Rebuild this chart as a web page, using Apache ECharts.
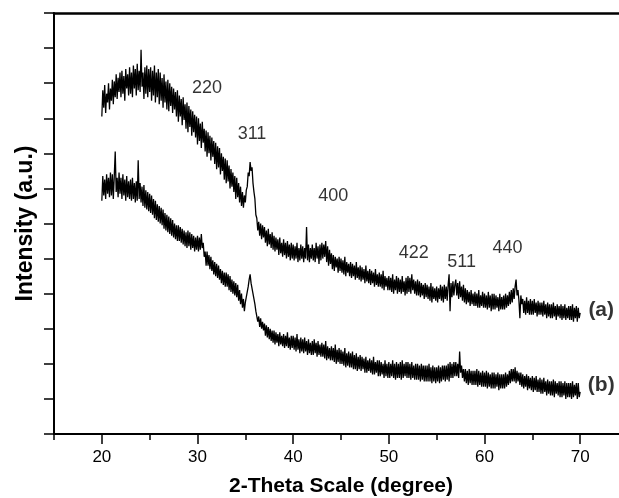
<!DOCTYPE html>
<html>
<head>
<meta charset="utf-8">
<title>XRD</title>
<script src="https://cdn.jsdelivr.net/npm/echarts@6/dist/echarts.min.js"></script>
<style>
  html, body { margin: 0; padding: 0; background: #fff; }
  #main { width: 619px; height: 498px; }
</style>
</head>
<body>
<div id="main"></div>
<script type="text/javascript">
// 2-theta sampling of the scans (degrees)
var thetaStart = 20;
var thetaStep = 0.1;

// scan (a), one row per degree (20.0 .. 69.9), then 70.0
var scanA = [
  905, 980, 930, 995, 915, 970, 945, 1000, 925, 985,
  950, 1010, 940, 1005, 960, 1025, 955, 1015, 975, 1030,
  960, 1035, 970, 1020, 950, 1040, 985, 1025, 965, 1045,
  970, 1030, 960, 1050, 985, 1040, 965, 1055, 980, 1035,
  975, 1095, 990, 1030, 955, 1045, 970, 1050, 960, 1040,
  975, 1045, 950, 1035, 965, 1050, 945, 1030, 960, 1040,
  940, 1030, 950, 1015, 930, 1025, 945, 1005, 925, 1010,
  920, 1000, 935, 990, 915, 985, 925, 975, 905, 980,
  890, 965, 905, 955, 880, 960, 895, 940, 870, 945,
  860, 935, 875, 925, 850, 920, 860, 910, 845, 905,
  825, 900, 835, 885, 815, 890, 830, 870, 805, 865,
  790, 860, 800, 850, 780, 845, 790, 835, 770, 830,
  755, 820, 760, 815, 740, 800, 750, 790, 725, 785,
  715, 780, 720, 765, 700, 755, 705, 745, 690, 735,
  670, 730, 675, 715, 660, 705, 650, 690, 645, 680,
  660, 695, 705, 745, 735, 775, 750, 760, 715, 690,
  670, 625, 615, 580, 605, 565, 600, 555, 595, 560,
  590, 545, 580, 535, 585, 540, 570, 530, 575, 525,
  565, 520, 560, 525, 555, 510, 560, 515, 545, 505,
  555, 510, 545, 500, 550, 505, 540, 495, 545, 500,
  540, 495, 535, 500, 545, 490, 530, 495, 540, 500,
  535, 490, 530, 500, 590, 495, 540, 490, 530, 500,
  540, 495, 530, 490, 545, 500, 535, 485, 540, 495,
  545, 500, 540, 505, 550, 490, 535, 480, 525, 485,
  515, 470, 510, 465, 505, 475, 500, 460, 505, 465,
  500, 460, 495, 455, 505, 450, 490, 460, 485, 450,
  490, 445, 485, 450, 480, 440, 490, 445, 475, 440,
  480, 435, 475, 440, 470, 430, 480, 435, 465, 430,
  470, 425, 465, 430, 460, 420, 470, 425, 455, 420,
  460, 420, 455, 415, 465, 410, 450, 420, 445, 410,
  450, 410, 445, 405, 455, 400, 440, 410, 450, 400,
  445, 405, 440, 400, 450, 405, 435, 395, 445, 400,
  450, 405, 445, 400, 455, 410, 440, 400, 435, 395,
  440, 395, 435, 390, 430, 395, 425, 385, 430, 390,
  425, 385, 420, 380, 430, 375, 420, 385, 415, 380,
  420, 375, 415, 385, 425, 380, 420, 375, 425, 385,
  420, 380, 425, 455, 350, 430, 390, 435, 395, 425,
  440, 395, 430, 385, 435, 390, 420, 380, 425, 375,
  415, 370, 410, 375, 405, 365, 410, 370, 400, 365,
  405, 365, 400, 360, 410, 360, 395, 365, 405, 360,
  400, 360, 395, 355, 405, 360, 395, 350, 400, 355,
  400, 355, 395, 360, 390, 350, 400, 355, 390, 355,
  395, 355, 400, 360, 395, 365, 405, 370, 410, 375,
  415, 385, 420, 440, 395, 410, 380, 330, 395, 370,
  385, 345, 380, 340, 390, 345, 380, 340, 385, 340,
  380, 340, 385, 345, 375, 335, 380, 340, 375, 340,
  375, 335, 380, 340, 370, 330, 375, 335, 370, 330,
  370, 330, 375, 335, 365, 325, 370, 335, 365, 330,
  370, 325, 365, 330, 370, 325, 360, 330, 365, 325,
  365, 325, 370, 320, 360, 330, 365, 320, 360, 330,
  345
];

// scan (b), same sampling
var scanB = [
  665, 735, 680, 725, 670, 740, 685, 730, 675, 745,
  680, 740, 670, 735, 805, 690, 730, 675, 745, 685,
  730, 670, 740, 680, 725, 665, 735, 675, 720, 670,
  725, 665, 730, 670, 715, 660, 720, 665, 780, 670,
  715, 660, 705, 650, 710, 645, 695, 640, 690, 635,
  685, 630, 680, 625, 670, 615, 665, 610, 655, 605,
  650, 600, 645, 595, 640, 585, 630, 580, 625, 575,
  620, 570, 615, 565, 610, 560, 600, 555, 595, 550,
  595, 550, 590, 545, 585, 540, 580, 535, 575, 530,
  580, 535, 575, 525, 570, 530, 565, 520, 560, 525,
  565, 520, 560, 525, 570, 530, 545, 505, 520, 480,
  520, 480, 510, 470, 505, 465, 495, 455, 490, 450,
  485, 445, 480, 440, 470, 430, 465, 425, 460, 420,
  460, 420, 455, 410, 450, 405, 440, 400, 435, 395,
  430, 390, 425, 380, 410, 370, 400, 360, 385, 350,
  375, 390, 405, 420, 440, 455, 430, 435, 400, 385,
  370, 350, 345, 320, 335, 305, 330, 300, 320, 295,
  315, 280, 310, 275, 305, 270, 300, 265, 295, 260,
  295, 255, 290, 260, 285, 250, 290, 255, 280, 250,
  285, 245, 280, 250, 290, 245, 275, 240, 280, 245,
  280, 240, 275, 235, 285, 240, 270, 230, 275, 235,
  270, 230, 275, 235, 265, 225, 270, 230, 260, 225,
  265, 225, 270, 230, 260, 220, 265, 225, 255, 220,
  260, 220, 255, 215, 265, 210, 250, 215, 245, 210,
  250, 210, 245, 205, 255, 200, 240, 205, 245, 200,
  240, 200, 235, 195, 245, 190, 230, 195, 235, 190,
  230, 190, 235, 185, 225, 185, 230, 180, 220, 185,
  225, 180, 220, 185, 215, 175, 220, 175, 210, 180,
  215, 175, 210, 170, 220, 170, 205, 175, 210, 165,
  210, 165, 205, 170, 200, 160, 210, 165, 200, 160,
  205, 160, 200, 165, 210, 160, 200, 155, 205, 160,
  200, 160, 205, 155, 210, 160, 200, 165, 205, 160,
  205, 160, 200, 155, 205, 160, 195, 155, 200, 155,
  200, 155, 195, 150, 200, 155, 195, 150, 195, 150,
  195, 150, 200, 150, 190, 145, 195, 150, 190, 145,
  190, 150, 195, 145, 190, 150, 195, 155, 195, 150,
  195, 155, 200, 150, 205, 160, 200, 160, 205, 165,
  205, 165, 200, 160, 235, 175, 195, 160, 185, 150,
  185, 145, 180, 140, 185, 145, 180, 140, 180, 140,
  180, 140, 185, 135, 180, 140, 175, 135, 180, 135,
  175, 135, 180, 130, 175, 135, 170, 130, 175, 130,
  175, 130, 170, 135, 175, 125, 170, 130, 170, 130,
  170, 130, 175, 135, 170, 140, 180, 145, 185, 150,
  185, 150, 190, 145, 180, 150, 175, 140, 175, 135,
  170, 130, 165, 135, 170, 125, 165, 130, 160, 125,
  165, 120, 160, 125, 165, 120, 155, 120, 160, 115,
  155, 115, 160, 120, 150, 110, 155, 115, 150, 110,
  150, 110, 155, 105, 150, 115, 145, 110, 150, 105,
  150, 105, 145, 110, 150, 100, 145, 105, 145, 105,
  145, 100, 150, 105, 140, 110, 145, 100, 145, 105,
  120
];

// reflection labels
var peakNames = ['220', '311', '400', '422', '511', '440'];
var peakX = [31.0, 35.7, 44.2, 52.6, 57.6, 62.4];
var peakY = [986, 855, 678, 516, 490, 530];

// curve labels
var curveNames = ['(a)', '(b)'];
var curveX = [72.2, 72.2];
var curveY = [353, 140];

var majorTicks = [20, 30, 40, 50, 60, 70];

function toPairs(arr) {
  return arr.map(function (v, i) { return [thetaStart + i * thetaStep, v]; });
}
function labelPoints(names, xs, ys) {
  return names.map(function (n, i) { return { value: [xs[i], ys[i]], name: n }; });
}

var myChart = echarts.init(document.getElementById('main'));
var font = 'Liberation Sans, Arial, Helvetica, sans-serif';

var option = {
  animation: false,
  backgroundColor: '#fff',
  grid: { left: 54, top: 13, bottom: 64, right: -9, outerBoundsMode: 'none', containLabel: false },
  xAxis: [
    {
      type: 'value', min: 15, max: 75, interval: 5, position: 'bottom',
      name: '2-Theta Scale (degree)', nameLocation: 'middle', nameGap: 42,
      nameTextStyle: { fontFamily: font, fontWeight: 'bold', fontSize: 21, color: '#000' },
      axisLine: { onZero: false, lineStyle: { color: '#000', width: 2 } },
      axisTick: { show: true, length: 6, lineStyle: { color: '#000', width: 1.5 } },
      axisLabel: {
        margin: 15, fontFamily: font, fontSize: 17, color: '#000',
        formatter: function (v) { return v % 10 === 0 ? String(v) : ''; }
      },
      splitLine: { show: false }
    },
    {
      type: 'value', min: 15, max: 75, interval: 5, position: 'bottom',
      axisLine: { show: false },
      axisTick: { show: true, length: 10, customValues: majorTicks, lineStyle: { color: '#000', width: 1.5 } },
      axisLabel: { show: false },
      splitLine: { show: false }
    },
    {
      type: 'value', min: 15, max: 75, position: 'top',
      axisLine: { onZero: false, lineStyle: { color: '#000', width: 2.5 } },
      axisTick: { show: false },
      axisLabel: { show: false },
      splitLine: { show: false }
    }
  ],
  yAxis: {
    type: 'value', min: 0, max: 1200, interval: 100,
    name: 'Intensity (a.u.)', nameLocation: 'middle', nameGap: 17,
    nameTextStyle: { fontFamily: font, fontWeight: 'bold', fontSize: 23, color: '#000' },
    axisLine: { show: true, onZero: false, lineStyle: { color: '#000', width: 2 } },
    axisTick: { show: true, length: 10, lineStyle: { color: '#000', width: 1.5 } },
    axisLabel: { show: false },
    splitLine: { show: false }
  },
  series: [
    {
      name: 'a', type: 'line', data: toPairs(scanA), showSymbol: false,
      lineStyle: { color: '#000', width: 1.3 }
    },
    {
      name: 'b', type: 'line', data: toPairs(scanB), showSymbol: false,
      lineStyle: { color: '#000', width: 1.3 }
    },
    {
      type: 'scatter', data: labelPoints(peakNames, peakX, peakY), symbolSize: 1,
      itemStyle: { color: 'rgba(0,0,0,0)' },
      label: { show: true, position: 'inside', formatter: '{b}', fontFamily: font, fontSize: 18, color: '#000' }
    },
    {
      type: 'scatter', data: labelPoints(curveNames, curveX, curveY), symbolSize: 1,
      itemStyle: { color: 'rgba(0,0,0,0)' },
      label: { show: true, position: 'inside', formatter: '{b}', fontFamily: font, fontWeight: 'bold', fontSize: 21, color: '#000' }
    }
  ]
};

myChart.setOption(option);
</script>
</body>
</html>
